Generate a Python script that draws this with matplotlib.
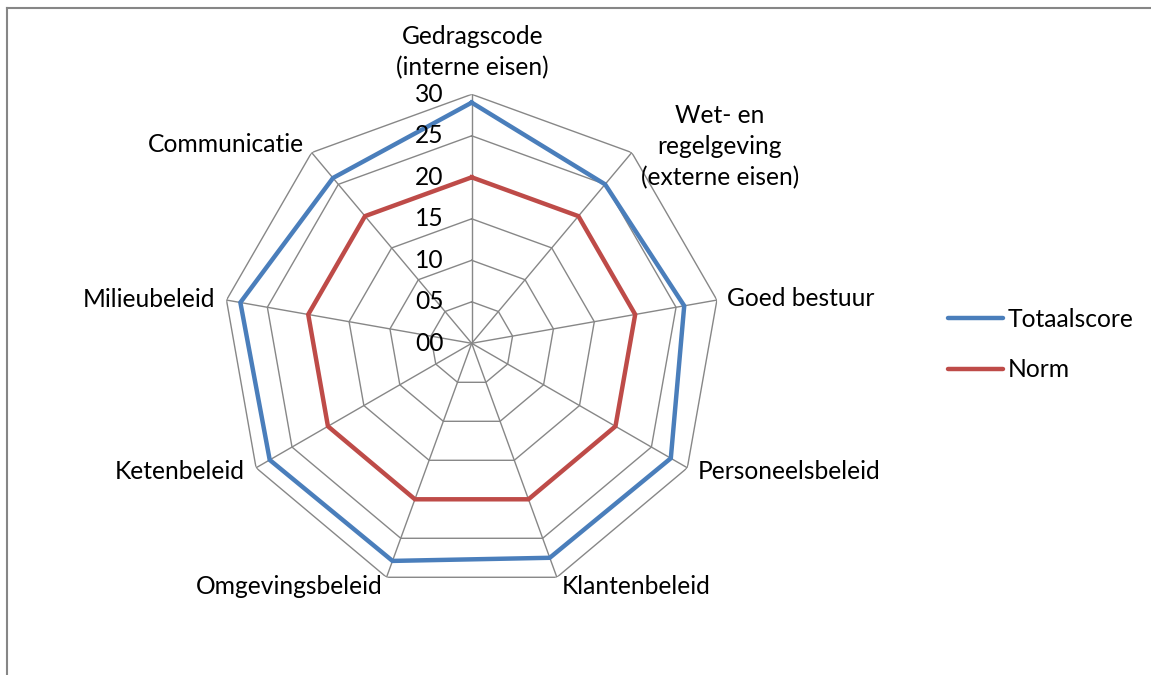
import numpy as np
import matplotlib
matplotlib.use("Agg")
import matplotlib.pyplot as plt
from matplotlib.lines import Line2D

categories = ["Gedragscode\n(interne eisen)", "Wet- en\nregelgeving\n(externe eisen)", "Goed bestuur",
              "Personeelsbeleid", "Klantenbeleid", "Omgevingsbeleid", "Ketenbeleid",
              "Milieubeleid", "Communicatie"]
totaalscore = [29.0, 25.0, 26.0, 27.7, 27.5, 27.9, 28.1, 28.3, 26.0]
norm = [20, 20, 20, 20, 20, 20, 20, 20, 20]
ticks = [0, 5, 10, 15, 20, 25, 30]
tick_labels = ["00", "05", "10", "15", "20", "25", "30"]
series_names = ["Totaalscore", "Norm"]

W, H = 1151, 675
plt.rcParams['font.family'] = ['Lato', 'DejaVu Sans']
fig = plt.figure(figsize=(W / 100, H / 100), dpi=100)

# fit font size so that a reference label has the intended width
renderer = fig.canvas.get_renderer()
probe = fig.text(0, 0, "Klantenbeleid", fontsize=15)
wpx = probe.get_window_extent(renderer).width
probe.remove()
FS = 15 * 149.0 / wpx

cx, cy, R = 471.7, 343.3, 249.0
ax = fig.add_axes([(cx - R) / W, (H - cy - R) / H, 2 * R / W, 2 * R / H], projection='polar')
ax.set_theta_offset(np.pi / 2)
ax.set_theta_direction(-1)
ax.set_ylim(0, 30)
ax.set_axis_off()

n = len(categories)
ang = np.arange(n) * 2 * np.pi / n
angc = np.append(ang, ang[0])

grid_c = '#878787'
for r in ticks[1:]:
    ax.plot(angc, [r] * (n + 1), color=grid_c, lw=1.0, zorder=1)
for a in ang:
    ax.plot([a, a], [0, 30], color=grid_c, lw=1.0, zorder=1)

colors = ['#4A7EBB', '#BE4B48']
handles = []
for vals, c, name in zip([totaalscore, norm], colors, series_names):
    v = np.append(vals, vals[0])
    h, = ax.plot(angc, v, color=c, lw=3.2, solid_joinstyle='miter', zorder=3, label=name)
    handles.append(h)

for t, lab in zip(ticks, tick_labels):
    ax.annotate(lab, xy=(0, t), xytext=(-28, 0), textcoords='offset pixels',
                ha='right', va='center', fontsize=FS, color='black', zorder=4)

# label offsets (pixels from outer vertex), alignment
lab_style = [
    ((1, 42), 'center'),
    ((88, 6), 'center'),
    ((10, 2), 'left'),
    ((10, -4), 'left'),
    ((5, -9.5), 'left'),
    ((-3.5, -9.5), 'right'),
    ((-11, -4), 'right'),
    ((-11.5, 1), 'right'),
    ((-7.5, 8), 'right'),
]
for a, lab, (off, ha) in zip(ang, categories, lab_style):
    ax.annotate(lab, xy=(a, 30), xytext=off, textcoords='offset pixels',
                ha=ha, va='center', ma='center', fontsize=FS, linespacing=1.42,
                annotation_clip=False)

fs_px = FS * 100 / 72
leg = fig.legend(handles=handles, loc='center left',
                 bbox_to_anchor=(948 / W, 1 - 344.5 / H), frameon=False,
                 fontsize=FS, handlelength=55 / fs_px, handletextpad=5 / fs_px,
                 labelspacing=(57 - fs_px * 1.2) / fs_px, borderpad=0, borderaxespad=0)
for lh in leg.get_lines():
    lh.set_linewidth(3.2)
    lh.set_solid_capstyle('round')

fig.add_artist(Line2D([7.5 / W, 7.5 / W], [0, 1 - 8 / H], transform=fig.transFigure, color='#868686', lw=1.5))
fig.add_artist(Line2D([7.5 / W, 1], [1 - 8 / H, 1 - 8 / H], transform=fig.transFigure, color='#868686', lw=1.5))

fig.savefig("out.png", dpi=100)
